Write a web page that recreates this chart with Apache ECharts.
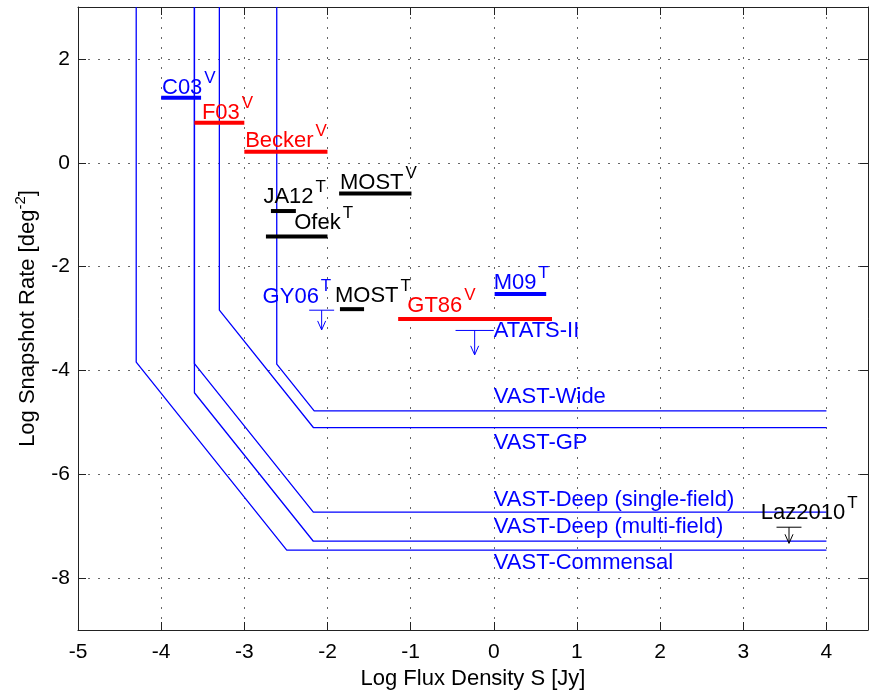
<!DOCTYPE html>
<html><head><meta charset="utf-8">
<script src="https://cdn.jsdelivr.net/npm/echarts@6/dist/echarts.min.js"></script>
<style>html,body{margin:0;padding:0;background:#fff}#c{width:877px;height:698px}</style>
</head><body><div id="c"></div>
<script>
// ---------- data ----------
// Sensitivity boundaries (vertex lists) for the VAST surveys
const curveNames = ['VAST-Wide', 'VAST-GP', 'VAST-Deep (single-field)', 'VAST-Deep (multi-field)', 'VAST-Commensal'];
const curveX = [
  [-2.61, -2.61, -2.16, 4],
  [-3.30, -3.30, -2.17, 4],
  [-3.60, -3.60, -2.17, 4],
  [-3.60, -3.60, -2.17, 4],
  [-4.30, -4.30, -2.49, 4]
];
const curveY = [
  [3, -3.88, -4.78, -4.78],
  [3, -2.84, -5.10, -5.10],
  [3, -3.87, -6.73, -6.73],
  [3, -4.43, -7.29, -7.29],
  [3, -3.84, -7.46, -7.46]
];
// Previous surveys shown as horizontal bars
const barNames = ['C03', 'F03', 'Becker', 'MOST (V)', 'JA12', 'Ofek', 'MOST (T)', 'GT86', 'M09'];
const barX0 = [-4.00, -3.60, -3.00, -1.86, -2.68, -2.74, -1.85, -1.15, 0.01];
const barX1 = [-3.52, -3.00, -2.00, -0.99, -2.38, -2.00, -1.56, 0.70, 0.63];
const barY = [1.25, 0.77, 0.21, -0.59, -0.93, -1.42, -2.82, -3.01, -2.53];
// Upper limits
const limNames = ['GY06', 'ATATS-II', 'Laz2010'];
const limX0 = [-2.22, -0.46, 3.40];
const limX1 = [-1.92, 0.00, 3.70];
const limY = [-2.84, -3.23, -7.02];
const limArrowY = [-3.22, -3.70, -7.33];
// Text annotations
const labelText = ['C03', 'F03', 'Becker', 'MOST', 'JA12', 'Ofek', 'GY06', 'MOST', 'GT86', 'M09', 'ATATS-II', 'Laz2010',
  'VAST-Wide', 'VAST-GP', 'VAST-Deep (single-field)', 'VAST-Deep (multi-field)', 'VAST-Commensal'];
const labelSup = ['V', 'V', 'V', 'V', 'T', 'T', 'T', 'T', 'V', 'T', '', 'T', '', '', '', '', ''];
const labelX = [-3.99, -3.51, -2.99, -1.85, -2.77, -2.40, -2.78, -1.91, -1.04, 0.00, 0.00, 3.21, 0.00, 0.00, 0.00, 0.00, 0.00];
const labelY = [1.44, 0.96, 0.42, -0.39, -0.66, -1.16, -2.58, -2.57, -2.75, -2.32, -3.24, -6.75, -4.51, -5.39, -6.50, -7.01, -7.71];
// Axis ranges
const xMin = -5, xMax = 4.5, xStep = 1;
const yMin = -9, yMax = 3;

// ---------- styles ----------
const BLUE = '#0000ff', RED = '#ff0000', BLACK = '#000000';
const barColors = [BLUE, RED, RED, BLACK, BLACK, BLACK, BLACK, RED, BLUE];
const limColors = [BLUE, BLUE, BLACK];
const labelColors = [BLUE, RED, RED, BLACK, BLACK, BLACK, BLUE, BLACK, RED, BLUE, BLUE, BLACK, BLUE, BLUE, BLUE, BLUE, BLUE];
const FONT = '"Liberation Sans", Arial, Helvetica, sans-serif';
const AX = '#222';

const series = [];
curveNames.forEach((n, i) => {
  series.push({
    type: 'line', name: n, xAxisIndex: 0, yAxisIndex: 0,
    data: curveX[i].map((x, k) => [x, curveY[i][k]]),
    symbol: 'none', lineStyle: { color: BLUE, width: 1.3 }, silent: true, z: 3
  });
});
barNames.forEach((n, i) => {
  series.push({
    type: 'line', name: n, xAxisIndex: 0, yAxisIndex: 0,
    data: [[barX0[i], barY[i]], [barX1[i], barY[i]]],
    symbol: 'none', lineStyle: { color: barColors[i], width: 4, cap: 'butt' }, silent: true, z: 4
  });
});
series.push({
  type: 'custom', xAxisIndex: 0, yAxisIndex: 0, silent: true, z: 5,
  data: limNames.map((n, i) => [limX0[i], limX1[i], limY[i], limArrowY[i], i]),
  renderItem: (params, api) => {
    const x0 = api.value(0), x1 = api.value(1), y = api.value(2), ya = api.value(3), i = api.value(4);
    const p0 = api.coord([x0, y]), p1 = api.coord([x1, y]);
    const xm = (x0 + x1) / 2;
    const pm = api.coord([xm, y]), pt = api.coord([xm, ya]);
    const col = limColors[i];
    return {
      type: 'group', children: [
        { type: 'line', shape: { x1: p0[0], y1: p0[1], x2: p1[0], y2: p1[1] }, style: { stroke: col, lineWidth: 1 } },
        { type: 'line', shape: { x1: pm[0], y1: pm[1], x2: pt[0], y2: pt[1] }, style: { stroke: col, lineWidth: 1 } },
        { type: 'polyline', shape: { points: [[pt[0] - 4, pt[1] - 9], [pt[0], pt[1]], [pt[0] + 4, pt[1] - 9]] }, style: { stroke: col, fill: null, lineWidth: 1 } }
      ]
    };
  }
});
series.push({
  type: 'custom', xAxisIndex: 0, yAxisIndex: 0, silent: true, z: 6,
  data: labelText.map((t, i) => [labelX[i], labelY[i], i]),
  renderItem: (params, api) => {
    const i = api.value(2);
    const p = api.coord([api.value(0), api.value(1)]);
    const col = labelColors[i];
    const txt = labelSup[i] ? '{m|' + labelText[i] + '}{s|' + labelSup[i] + '}' : '{m|' + labelText[i] + '}';
    return {
      type: 'text', x: p[0], y: p[1],
      style: {
        text: txt, align: 'left', verticalAlign: 'middle',
        rich: {
          m: { fontSize: 22, fontFamily: FONT, fill: col },
          s: { fontSize: 17, fontFamily: FONT, fill: col, padding: [0, 0, 20, 2] }
        }
      }
    };
  }
});

const tickStyle = { show: true, inside: true, length: 8, lineStyle: { color: AX, width: 1 } };
const gridLine = { show: true, lineStyle: { color: '#666', width: 1, type: [2, 8] } };
const option = {
  animation: false,
  backgroundColor: '#fff',
  grid: { left: 78, right: 9, top: 7, bottom: 68, containLabel: false },
  xAxis: [
    {
      type: 'value', min: xMin, max: xMax, interval: xStep, position: 'bottom',
      axisLine: { show: true, onZero: false, lineStyle: { color: AX, width: 1 } },
      axisTick: tickStyle,
      axisLabel: { color: '#000', fontSize: 21, fontFamily: FONT, margin: 12, formatter: v => (v > 4.2 ? '' : String(v)) },
      splitLine: gridLine,
      name: 'Log Flux Density S [Jy]', nameLocation: 'middle', nameGap: 37,
      nameTextStyle: { color: '#000', fontSize: 22, fontFamily: FONT }
    },
    {
      type: 'value', min: xMin, max: xMax, interval: xStep, position: 'top',
      axisLine: { show: true, onZero: false, lineStyle: { color: AX, width: 1 } },
      axisTick: tickStyle, axisLabel: { show: false }, splitLine: { show: false }
    }
  ],
  yAxis: [
    {
      type: 'value', min: yMin, max: yMax, splitNumber: 6, position: 'left',
      axisLine: { show: true, onZero: false, lineStyle: { color: AX, width: 1 } },
      axisTick: tickStyle,
      axisLabel: { color: '#000', fontSize: 21, fontFamily: FONT, margin: 8, formatter: v => (Math.abs(v % 2) < 1e-9 ? String(v) : '') },
      splitLine: gridLine,
      name: '{a|Log Snapshot Rate [deg}{s|-2}{a|]}', nameLocation: 'middle', nameGap: 36,
      nameTextStyle: {
        color: '#000', fontFamily: FONT,
        rich: { a: { fontSize: 22, fontFamily: FONT, color: '#000' }, s: { fontSize: 15, fontFamily: FONT, color: '#000', padding: [0, 0, 14, 0] } }
      }
    },
    {
      type: 'value', min: yMin, max: yMax, splitNumber: 6, position: 'right',
      axisLine: { show: true, onZero: false, lineStyle: { color: AX, width: 1 } },
      axisTick: tickStyle, axisLabel: { show: false }, splitLine: { show: false }
    }
  ],
  series: series
};
const chart = echarts.init(document.getElementById('c'));
chart.setOption(option);
</script>
</body></html>
